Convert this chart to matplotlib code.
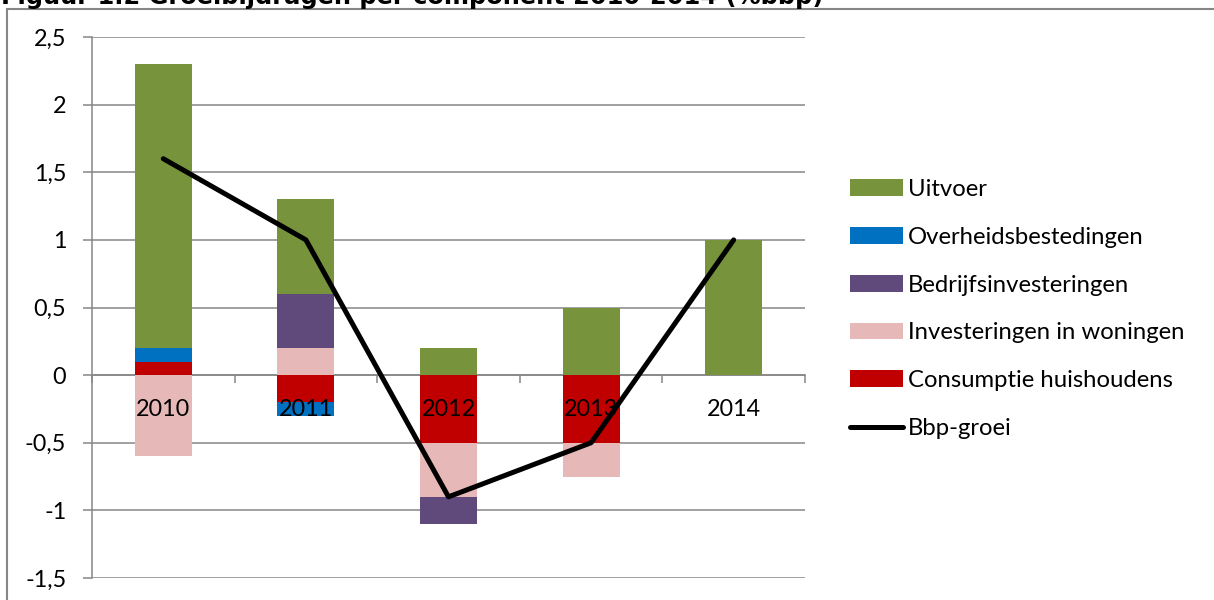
import numpy as np
import matplotlib
matplotlib.use('Agg')
import matplotlib.pyplot as plt
from matplotlib.patches import Rectangle

# Data (procentpunt bijdrage aan bbp-groei)
jaren = ['2010', '2011', '2012', '2013', '2014']
consumptie = [0.1, -0.2, -0.5, -0.5, 0.0]
woningen = [-0.6, 0.2, -0.4, -0.25, 0.0]
bedrijfs = [0.0, 0.4, -0.2, 0.0, 0.0]
overheid = [0.1, -0.1, 0.0, 0.0, 0.0]
uitvoer = [2.1, 0.7, 0.2, 0.5, 1.0]
bbp_groei = [1.6, 1.0, -0.9, -0.5, 1.0]

y_ticks = [-1.5, -1, -0.5, 0, 0.5, 1, 1.5, 2, 2.5]
y_labels = ['-1,5', '-1', '-0,5', '0', '0,5', '1', '1,5', '2', '2,5']

series = [
    ('Consumptie huishoudens', consumptie, '#C00000'),
    ('Investeringen in woningen', woningen, '#E6B9B8'),
    ('Bedrijfsinvesteringen', bedrijfs, '#604A7B'),
    ('Overheidsbestedingen', overheid, '#0070C0'),
    ('Uitvoer', uitvoer, '#77933C'),
]

plt.rcParams['font.family'] = ['Lato', 'DejaVu Sans']
grijs = '#868686'
fs = 16.8

W, H = 1214, 600
fig = plt.figure(figsize=(W / 100, H / 100), dpi=100)
ax = fig.add_axes([92 / W, 1 - 578 / H, (805 - 92) / W, (578 - 37) / H])

x = np.arange(len(jaren))
pos_bottom = np.zeros(len(jaren))
neg_bottom = np.zeros(len(jaren))
handles = {}
for naam, vals, kleur in series:
    vals = np.array(vals)
    bottom = np.where(vals >= 0, pos_bottom, neg_bottom)
    h = ax.bar(x, vals, 0.4, bottom=bottom, color=kleur, zorder=2, label=naam)
    handles[naam] = h
    pos_bottom += np.where(vals > 0, vals, 0)
    neg_bottom += np.where(vals < 0, vals, 0)

lijn, = ax.plot(x, bbp_groei, color='black', lw=3.6, zorder=5,
                solid_capstyle='round', label='Bbp-groei')

# categorie-labels net onder de nullijn
for i, j in enumerate(jaren):
    ax.annotate(j, (i, 0), xytext=(0, -25), textcoords='offset points',
                ha='center', va='center', fontsize=fs, zorder=4)

ax.set_xlim(-0.5, len(jaren) - 0.5)
ax.set_ylim(-1.5, 2.5)
ax.set_yticks(y_ticks)
ax.set_yticklabels(y_labels, fontsize=fs)
ax.set_xticks(np.arange(len(jaren) + 1) - 0.5)
ax.set_xticklabels([])

ax.set_axisbelow(True)
ax.yaxis.grid(True, color=grijs, lw=1.1)
for s in ['top', 'right']:
    ax.spines[s].set_visible(False)
ax.spines['bottom'].set_position(('data', 0))
ax.spines['bottom'].set_zorder(1)
ax.spines['bottom'].set_color(grijs)
ax.spines['left'].set_color(grijs)
ax.spines['left'].set_linewidth(1.1)
ax.spines['bottom'].set_linewidth(1.1)
ax.tick_params(axis='y', length=6.5, width=1.1, color=grijs, pad=12)
ax.tick_params(axis='x', length=5.5, width=1.1, color=grijs, direction='out')

order = ['Uitvoer', 'Overheidsbestedingen', 'Bedrijfsinvesteringen',
         'Investeringen in woningen', 'Consumptie huishoudens']
leg = fig.legend([handles[n] for n in order] + [lijn], order + ['Bbp-groei'],
                 loc='center left', bbox_to_anchor=(840 / W, 1 - 309 / H),
                 frameon=False, fontsize=17.2, handlelength=2.25, handleheight=0.7,
                 handletextpad=0.2, labelspacing=1.12, borderaxespad=0)

# kader van het grafiekgebied
fig.patches.append(Rectangle((7 / W, -0.1), 1.2, 1.1 - 9 / H, transform=fig.transFigure,
                             fill=False, edgecolor=grijs, lw=1.5))

# titel (bovenkant valt buiten beeld, zoals in het origineel)
titel = fig.text(1 / W, 1 - 4 / H, 'Figuur 1.2 Groeibijdragen per component 2010-2014 (%bbp)',
                 ha='left', va='baseline', fontsize=17, fontweight='bold',
                 family='DejaVu Sans')
fig.canvas.draw()
breedte = titel.get_window_extent().width
titel.set_fontsize(17 * 827 / breedte)

fig.savefig('out.png', dpi=100)
